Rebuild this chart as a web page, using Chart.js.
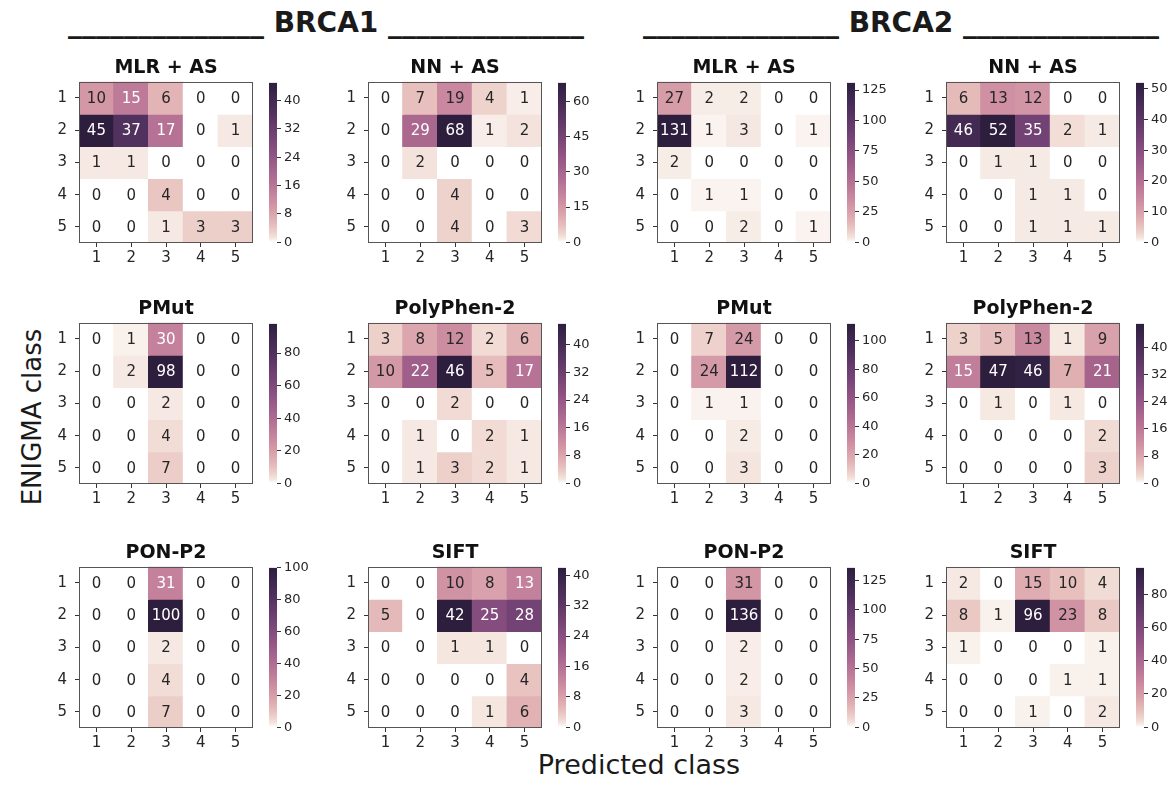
<!DOCTYPE html>
<html>
<head>
<meta charset="utf-8">
<script src="https://cdn.jsdelivr.net/npm/chart.js@4.4.1/dist/chart.umd.min.js"></script>
<style>
  body { margin: 0; background: #fff; }
  #fig { position: relative; width: 1173px; height: 788px; overflow: hidden; font-family: 'DejaVu Sans', sans-serif; color: #1a1a1a; }
  #fig canvas { position: absolute; }
  .gene { position: absolute; width: 560px; font-weight: bold; font-size: 28px; line-height: 28px; white-space: pre; text-align: center; }
  .axis-label { position: absolute; width: 300px; height: 30px; line-height: 30px; white-space: nowrap; text-align: center; }
</style>
</head>
<body>
<div id="fig">
  <div class="gene" style="left:46px; top:9px;">______________ BRCA1 ______________</div>
  <div class="gene" style="left:621px; top:9px;">______________ BRCA2 ______________</div>
  <div class="axis-label" style="left:-118px; top:402px; font-size:26px; transform: rotate(-90deg);">ENIGMA class</div>
  <div class="axis-label" style="left:489px; top:750px; font-size:27px;">Predicted class</div>
</div>
<script>
'use strict';

const CLASSES = ['1', '2', '3', '4', '5'];
const GENES = ['BRCA1', 'BRCA2'];
const PANEL_TITLES = [
  ['MLR + AS', 'NN + AS'],
  ['PMut', 'PolyPhen-2'],
  ['PON-P2', 'SIFT'],
];

// rows = ENIGMA class 1..5, columns = predicted class 1..5
const BRCA1_MLR_AS   = [[10, 15, 6, 0, 0], [45, 37, 17, 0, 1], [1, 1, 0, 0, 0], [0, 0, 4, 0, 0], [0, 0, 1, 3, 3]];
const BRCA1_NN_AS    = [[0, 7, 19, 4, 1], [0, 29, 68, 1, 2], [0, 2, 0, 0, 0], [0, 0, 4, 0, 0], [0, 0, 4, 0, 3]];
const BRCA2_MLR_AS   = [[27, 2, 2, 0, 0], [131, 1, 3, 0, 1], [2, 0, 0, 0, 0], [0, 1, 1, 0, 0], [0, 0, 2, 0, 1]];
const BRCA2_NN_AS    = [[6, 13, 12, 0, 0], [46, 52, 35, 2, 1], [0, 1, 1, 0, 0], [0, 0, 1, 1, 0], [0, 0, 1, 1, 1]];
const BRCA1_PMUT     = [[0, 1, 30, 0, 0], [0, 2, 98, 0, 0], [0, 0, 2, 0, 0], [0, 0, 4, 0, 0], [0, 0, 7, 0, 0]];
const BRCA1_POLYPHEN = [[3, 8, 12, 2, 6], [10, 22, 46, 5, 17], [0, 0, 2, 0, 0], [0, 1, 0, 2, 1], [0, 1, 3, 2, 1]];
const BRCA2_PMUT     = [[0, 7, 24, 0, 0], [0, 24, 112, 0, 0], [0, 1, 1, 0, 0], [0, 0, 2, 0, 0], [0, 0, 3, 0, 0]];
const BRCA2_POLYPHEN = [[3, 5, 13, 1, 9], [15, 47, 46, 7, 21], [0, 1, 0, 1, 0], [0, 0, 0, 0, 2], [0, 0, 0, 0, 3]];
const BRCA1_PONP2    = [[0, 0, 31, 0, 0], [0, 0, 100, 0, 0], [0, 0, 2, 0, 0], [0, 0, 4, 0, 0], [0, 0, 7, 0, 0]];
const BRCA1_SIFT     = [[0, 0, 10, 8, 13], [5, 0, 42, 25, 28], [0, 0, 1, 1, 0], [0, 0, 0, 0, 4], [0, 0, 0, 1, 6]];
const BRCA2_PONP2    = [[0, 0, 31, 0, 0], [0, 0, 136, 0, 0], [0, 0, 2, 0, 0], [0, 0, 2, 0, 0], [0, 0, 3, 0, 0]];
const BRCA2_SIFT     = [[2, 0, 15, 10, 4], [8, 1, 96, 23, 8], [1, 0, 0, 0, 1], [0, 0, 0, 1, 1], [0, 0, 1, 0, 2]];

// grid order: [BRCA1 left, BRCA1 right, BRCA2 left, BRCA2 right]
const PANELS = [
  [BRCA1_MLR_AS, BRCA1_NN_AS, BRCA2_MLR_AS, BRCA2_NN_AS],
  [BRCA1_PMUT, BRCA1_POLYPHEN, BRCA2_PMUT, BRCA2_POLYPHEN],
  [BRCA1_PONP2, BRCA1_SIFT, BRCA2_PONP2, BRCA2_SIFT],
];
const CBAR_STEPS = [
  [8, 15, 25, 10],
  [20, 8, 20, 8],
  [20, 8, 25, 20],
];

// layout (px)
const COL_LEFT = [79, 368, 657, 946];
const ROW_TOP = [82, 323, 567];
const MAP_W = 174;
const MAP_H = 161;
const CBAR_OFFSET = 190;
const CBAR_W = 8;
const Y_AXIS_W = 37;
const TITLE_H = 33;
const X_AXIS_H = 26;

const FONT = "'DejaVu Sans', sans-serif";
const TEXT_DARK = '#262626';

// cubehelix (start 0, rot .4) running white -> dark navy, mids pushed darker like the print
function cubehelix(t) {
  const light = 1.0, dark = 0.15;
  const f = Math.pow(Math.min(Math.max(t, 0), 1), 0.63);
  const x = light + (dark - light) * f;
  const a = 0.8 * x * (1 - x) / 2;
  const phi = 2 * Math.PI * (0.4 * x);
  const c = Math.cos(phi), s = Math.sin(phi);
  const rgb = [
    x + a * (-0.14861 * c + 1.78277 * s),
    x + a * (-0.29227 * c - 0.90649 * s),
    x + a * (1.97294 * c),
  ];
  return rgb.map(v => Math.round(Math.min(Math.max(v, 0), 1) * 255));
}

function toCss(rgb) {
  return `rgb(${rgb[0]},${rgb[1]},${rgb[2]})`;
}

function luminance(rgb) {
  const lin = v => { v /= 255; return v <= 0.03928 ? v / 12.92 : Math.pow((v + 0.055) / 1.055, 2.4); };
  return 0.2126 * lin(rgb[0]) + 0.7152 * lin(rgb[1]) + 0.0722 * lin(rgb[2]);
}

const heatmapPlugin = {
  id: 'heatmapAnnot',
  afterDatasetsDraw(chart) {
    const { ctx } = chart;
    ctx.save();
    ctx.font = `15px ${FONT}`;
    ctx.textAlign = 'center';
    ctx.textBaseline = 'middle';
    chart.data.datasets.forEach((ds, i) => {
      chart.getDatasetMeta(i).data.forEach((bar, j) => {
        ctx.fillStyle = ds.textColors[j];
        ctx.fillText(String(ds.values[j]), bar.x, (bar.y + bar.base) / 2 + 1);
      });
    });
    ctx.restore();
  },
  afterDraw(chart) {
    const a = chart.chartArea;
    const { ctx } = chart;
    ctx.save();
    ctx.strokeStyle = '#555';
    ctx.lineWidth = 1;
    ctx.strokeRect(Math.round(a.left) + 0.5, Math.round(a.top) + 0.5, Math.round(a.width) - 1, Math.round(a.height) - 1);
    ctx.restore();
  },
};

function addCanvas(left, top, width, height) {
  const cv = document.createElement('canvas');
  cv.width = width;
  cv.height = height;
  cv.style.left = `${left}px`;
  cv.style.top = `${top}px`;
  cv.style.width = `${width}px`;
  cv.style.height = `${height}px`;
  document.getElementById('fig').appendChild(cv);
  return cv;
}

function renderHeatmap(left, top, title, matrix) {
  const vmax = Math.max(...matrix.flat());
  const datasets = matrix.map((row, r) => {
    const colors = row.map(v => cubehelix(v / vmax));
    return {
      data: row.map(() => [r + 0.5, r + 1.5]),
      backgroundColor: colors.map(toCss),
      values: row,
      textColors: colors.map(c => (luminance(c) > 0.315 ? TEXT_DARK : '#ffffff')),
    };
  });

  const cv = addCanvas(left - Y_AXIS_W, top - TITLE_H, Y_AXIS_W + MAP_W + 3, TITLE_H + MAP_H + X_AXIS_H);
  new Chart(cv, {
    type: 'bar',
    data: { labels: CLASSES, datasets },
    plugins: [heatmapPlugin],
    options: {
      responsive: false,
      animation: false,
      events: [],
      layout: { padding: { right: 3 } },
      datasets: { bar: { grouped: false, barPercentage: 1, categoryPercentage: 1, borderWidth: 0, inflateAmount: 0.6 } },
      plugins: {
        legend: { display: false },
        tooltip: { enabled: false },
        title: {
          display: true,
          fullSize: false,
          text: title,
          color: '#111',
          font: { family: FONT, size: 19, weight: 'bold' },
          padding: { top: 8, bottom: 2 },
        },
      },
      scales: {
        x: {
          grid: { display: true, drawOnChartArea: false, offset: false, tickLength: 4, color: '#333' },
          border: { display: false },
          ticks: { color: TEXT_DARK, font: { family: FONT, size: 15 }, padding: 2, maxRotation: 0 },
          afterFit: s => { s.height = X_AXIS_H; },
        },
        y: {
          type: 'linear',
          reverse: true,
          min: 0.5,
          max: CLASSES.length + 0.5,
          afterBuildTicks: s => { s.ticks = CLASSES.map(c => ({ value: Number(c) })); },
          grid: { display: true, drawOnChartArea: false, tickLength: 4, color: '#333' },
          border: { display: false },
          ticks: { color: TEXT_DARK, font: { family: FONT, size: 15 }, padding: 8, callback: v => String(v) },
          afterFit: s => { s.width = Y_AXIS_W; },
        },
      },
    },
  });
  return vmax;
}

function renderColorbar(left, top, vmax, step) {
  const pad = 10;
  const cv = addCanvas(left, top - pad, CBAR_W + 40, MAP_H + 2 * pad);
  new Chart(cv, {
    type: 'bar',
    data: {
      labels: [''],
      datasets: [{
        data: [vmax],
        borderWidth: 0,
        backgroundColor: ctx => {
          const a = ctx.chart.chartArea;
          if (!a) return 'transparent';
          const g = ctx.chart.ctx.createLinearGradient(0, a.bottom, 0, a.top);
          for (let i = 0; i <= 40; i++) g.addColorStop(i / 40, toCss(cubehelix(i / 40)));
          return g;
        },
      }],
    },
    options: {
      responsive: false,
      animation: false,
      events: [],
      layout: { padding: { top: pad, bottom: pad, left: 0, right: 0 } },
      datasets: { bar: { barPercentage: 1, categoryPercentage: 1 } },
      plugins: { legend: { display: false }, tooltip: { enabled: false } },
      scales: {
        x: { display: false },
        y: {
          position: 'right',
          min: 0,
          max: vmax,
          grid: { display: true, drawOnChartArea: false, tickLength: 4, color: '#333' },
          border: { display: false },
          ticks: { stepSize: step, includeBounds: false, color: TEXT_DARK, font: { family: FONT, size: 13 }, padding: 3 },
          afterFit: s => { s.width = 40; },
        },
      },
    },
  });
}

function init() {
  PANELS.forEach((row, r) => {
    row.forEach((matrix, c) => {
      const left = COL_LEFT[c];
      const top = ROW_TOP[r];
      const title = PANEL_TITLES[r][c % 2];
      const vmax = renderHeatmap(left, top, title, matrix);
      renderColorbar(left + CBAR_OFFSET, top, vmax, CBAR_STEPS[r][c]);
    });
  });
}

init();
</script>
</body>
</html>
